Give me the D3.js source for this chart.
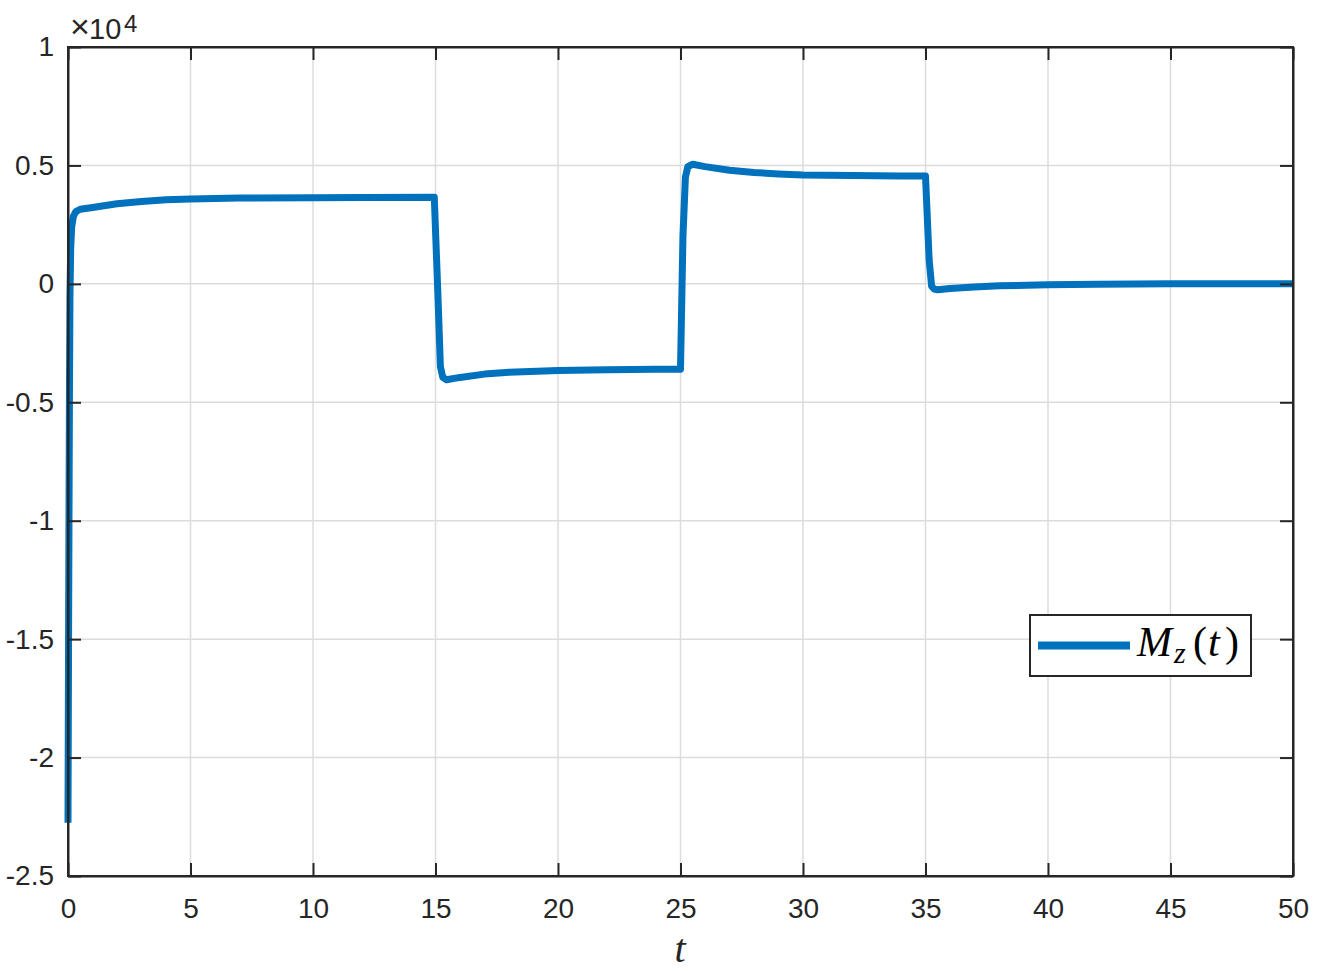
<!DOCTYPE html>
<html>
<head>
<meta charset="utf-8">
<script src="https://cdn.jsdelivr.net/npm/d3@7"></script>
<style>
  html, body { margin: 0; padding: 0; background: #fff; }
  svg { display: block; }
</style>
</head>
<body>
<svg id="chart" width="1328" height="971"></svg>
<script>
// Data (M_z in units of 10^4)
const tValues = [0, 0.02, 0.04, 0.06, 0.08, 0.11, 0.15, 0.22, 0.32, 0.5, 1, 2, 3, 4, 5, 7, 10, 12, 14.95,
  15.1, 15.2, 15.3, 15.45, 16, 17, 18, 20, 22, 24, 25.0,
  25.1, 25.2, 25.3, 25.5, 26, 27, 28, 29, 30, 32, 34, 35.0,
  35.15, 35.25, 35.35, 35.5, 36, 37, 38, 40, 42, 45, 48, 50];
const mzValues = [-2.275, -1.6, -1.0, -0.45, -0.05, 0.15, 0.24, 0.285, 0.305, 0.315, 0.322, 0.338, 0.348, 0.355, 0.358, 0.362, 0.364, 0.365, 0.366,
  -0.05, -0.35, -0.395, -0.405, -0.395, -0.381, -0.373, -0.366, -0.363, -0.361, -0.36,
  0.2, 0.45, 0.495, 0.505, 0.495, 0.48, 0.47, 0.464, 0.46, 0.457, 0.455, 0.455,
  0.1, -0.01, -0.022, -0.025, -0.02, -0.013, -0.008, -0.004, -0.002, 0.0, 0.0, 0.0];
const xTicks = [0, 5, 10, 15, 20, 25, 30, 35, 40, 45, 50];
const yTicks = [1, 0.5, 0, -0.5, -1, -1.5, -2, -2.5];
const yTickLabels = ["1", "0.5", "0", "-0.5", "-1", "-1.5", "-2", "-2.5"];

const svg = d3.select("#chart");
const L = 68, R = 1293, T = 47, B = 876;
const x = d3.scaleLinear().domain([0, 50]).range([L, R]);
const y = d3.scaleLinear().domain([-2.5, 1]).range([B, T]);

const axisColor = "#262626";
const gridColor = "#dcdcdc";
const font = "'Liberation Sans', Arial, Helvetica, sans-serif";
const serif = "'Liberation Serif', 'DejaVu Serif', serif";

// grid
const grid = svg.append("g");
grid.selectAll("line.gx").data(xTicks.slice(1, -1)).enter().append("line")
  .attr("x1", d => x(d)).attr("x2", d => x(d)).attr("y1", T).attr("y2", B)
  .attr("stroke", gridColor).attr("stroke-width", 1.5);
grid.selectAll("line.gy").data(yTicks.slice(1, -1)).enter().append("line")
  .attr("x1", L).attr("x2", R).attr("y1", d => y(d)).attr("y2", d => y(d))
  .attr("stroke", gridColor).attr("stroke-width", 1.5);

// line
const data = tValues.map((t, i) => [t, mzValues[i]]);
const line = d3.line().x(d => x(d[0])).y(d => y(d[1]));
svg.append("path").datum(data)
  .attr("d", line)
  .attr("fill", "none")
  .attr("stroke", "#0072BD")
  .attr("stroke-width", 7)
  .attr("stroke-linejoin", "round")
  .attr("stroke-linecap", "butt");

// axes with inward ticks on all sides
const tickLen = 13;
const axB = svg.append("g").attr("transform", `translate(0,${B})`)
  .call(d3.axisBottom(x).tickValues(xTicks).tickSizeInner(-tickLen).tickSizeOuter(0).tickPadding(22));
const axT = svg.append("g").attr("transform", `translate(0,${T})`)
  .call(d3.axisTop(x).tickValues(xTicks).tickSizeInner(-tickLen).tickSizeOuter(0).tickFormat(""));
const axL = svg.append("g").attr("transform", `translate(${L},0)`)
  .call(d3.axisLeft(y).tickValues(yTicks).tickSizeInner(-tickLen).tickSizeOuter(0).tickPadding(14)
    .tickFormat(d => yTickLabels[yTicks.indexOf(d)]));
const axR = svg.append("g").attr("transform", `translate(${R},0)`)
  .call(d3.axisRight(y).tickValues(yTicks).tickSizeInner(-tickLen).tickSizeOuter(0).tickFormat(""));

[axB, axT, axL, axR].forEach(g => {
  g.attr("font-size", null).attr("font-family", null);
  g.select(".domain").attr("stroke", axisColor).attr("stroke-width", 2);
  g.selectAll(".tick line").attr("stroke", axisColor).attr("stroke-width", 2);
  g.selectAll(".tick text").attr("fill", axisColor)
    .style("font-family", font).style("font-size", "28px");
});
svg.append("rect").attr("x", L).attr("y", T).attr("width", R - L).attr("height", B - T)
  .attr("fill", "none").attr("stroke", axisColor).attr("stroke-width", 2);

// exponent label
const expo = svg.append("text").attr("y", 39)
  .attr("fill", axisColor).style("font-family", font).style("font-size", "29px");
expo.append("tspan").attr("x", 70).attr("dy", -1).style("font-size", "34px").text("\u00d7");
expo.append("tspan").attr("x", 89).attr("dy", 1).text("10");
expo.append("tspan").attr("x", 124).attr("dy", -7.5).style("font-size", "24px").text("4");

// x label
svg.append("text").attr("x", 680).attr("y", 962)
  .attr("text-anchor", "middle")
  .style("font-family", serif)
  .style("font-style", "italic").style("font-size", "40px")
  .attr("fill", axisColor).text("t");

// legend
const lg = svg.append("g");
lg.append("rect").attr("x", 1030).attr("y", 615).attr("width", 221).attr("height", 61)
  .attr("fill", "#fff").attr("stroke", axisColor).attr("stroke-width", 2);
lg.append("line").attr("x1", 1038).attr("x2", 1130).attr("y1", 645.5).attr("y2", 645.5)
  .attr("stroke", "#0072BD").attr("stroke-width", 8);
const lt = lg.append("text").attr("y", 656)
  .style("font-family", serif)
  .style("font-size", "42px").attr("fill", "#000");
lt.append("tspan").attr("x", 1137).style("font-style", "italic").text("M");
lt.append("tspan").attr("x", 1174).attr("dy", 7).style("font-style", "italic").style("font-size", "30px").text("z");
lt.append("tspan").attr("x", 1193).attr("dy", -7).text("(");
lt.append("tspan").attr("x", 1208).style("font-style", "italic").text("t");
lt.append("tspan").attr("x", 1225).text(")");
</script>
</body>
</html>
